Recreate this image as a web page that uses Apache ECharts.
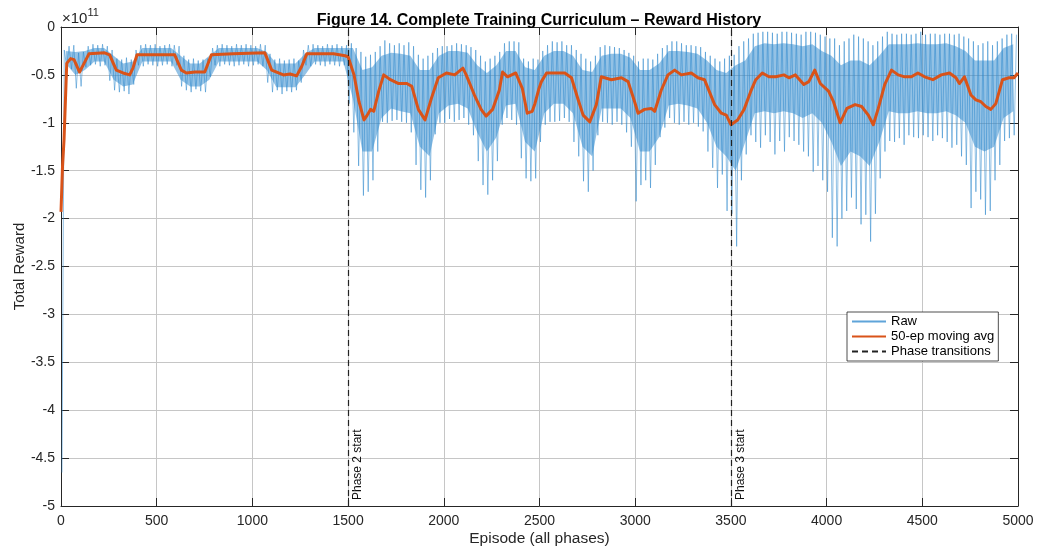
<!DOCTYPE html>
<html>
<head>
<meta charset="utf-8">
<title>Reward History</title>
<script src="https://cdn.jsdelivr.net/npm/echarts@6/dist/echarts.min.js"></script>
<style>
  html, body { margin: 0; padding: 0; background: #fff; }
  #chart { width: 1037px; height: 549px; }
</style>
</head>
<body>
<div id="chart"></div>
<script>
// Rewards are in units of 1e11 (the axis carries a "×10^11" multiplier).
const BIN = 25;    // raw-reward extremes are stored per 25-episode bin
const BLOCK = 50;  // dense core of the raw trace is stored per 50-episode block

// Upper extreme of the raw reward within each 25-episode bin (200 bins, episodes 0-5000)
const rawHigh = [
  // phase 1 (0-1500)
  -0.24,-0.20,-0.19,-0.27,-0.26,-0.20,-0.18,-0.19,-0.18,-0.20,
  -0.24,-0.33,-0.34,-0.32,-0.34,-0.24,-0.19,-0.18,-0.19,-0.18,
  -0.20,-0.19,-0.18,-0.19,-0.20,-0.30,-0.34,-0.33,-0.35,-0.34,
  -0.33,-0.22,-0.19,-0.18,-0.19,-0.20,-0.18,-0.19,-0.18,-0.19,
  -0.20,-0.18,-0.19,-0.28,-0.34,-0.33,-0.35,-0.34,-0.33,-0.35,
  -0.24,-0.19,-0.18,-0.19,-0.20,-0.18,-0.19,-0.18,-0.20,-0.19,
  // phase 2 (1500-3500)
  -0.17,-0.22,-0.26,-0.31,-0.29,-0.26,-0.20,-0.14,-0.17,-0.19,
  -0.17,-0.19,-0.16,-0.20,-0.29,-0.33,-0.30,-0.27,-0.22,-0.20,
  -0.20,-0.19,-0.17,-0.18,-0.19,-0.21,-0.24,-0.30,-0.36,-0.33,
  -0.30,-0.26,-0.17,-0.15,-0.15,-0.16,-0.33,-0.36,-0.33,-0.34,
  -0.25,-0.19,-0.15,-0.16,-0.15,-0.19,-0.19,-0.24,-0.28,-0.33,
  -0.36,-0.30,-0.21,-0.19,-0.20,-0.21,-0.22,-0.24,-0.27,-0.30,
  -0.36,-0.33,-0.33,-0.34,-0.28,-0.22,-0.19,-0.15,-0.15,-0.17,
  -0.19,-0.19,-0.20,-0.21,-0.26,-0.30,-0.33,-0.36,-0.33,-0.30,
  // phase 3 (3500-5000)
  -0.29,-0.20,-0.15,-0.12,-0.07,-0.06,-0.05,-0.05,-0.06,-0.07,
  -0.05,-0.05,-0.06,-0.07,-0.08,-0.05,-0.05,-0.06,-0.08,-0.10,
  -0.12,-0.12,-0.19,-0.15,-0.12,-0.08,-0.10,-0.12,-0.15,-0.19,
  -0.15,-0.10,-0.05,-0.07,-0.08,-0.07,-0.07,-0.08,-0.07,-0.05,
  -0.08,-0.07,-0.07,-0.08,-0.07,-0.07,-0.08,-0.07,-0.10,-0.12,
  -0.15,-0.19,-0.17,-0.15,-0.19,-0.15,-0.12,-0.08,-0.07,-0.08
];

// Lower extreme of the raw reward within each 25-episode bin
const rawLow = [
  // phase 1
  -4.65,-0.42,-0.44,-0.64,-0.62,-0.42,-0.40,-0.39,-0.41,-0.40,
  -0.56,-0.66,-0.68,-0.67,-0.70,-0.60,-0.40,-0.41,-0.39,-0.40,
  -0.41,-0.40,-0.39,-0.41,-0.40,-0.62,-0.66,-0.68,-0.65,-0.67,
  -0.68,-0.52,-0.40,-0.41,-0.39,-0.40,-0.41,-0.40,-0.39,-0.41,
  -0.40,-0.39,-0.41,-0.58,-0.68,-0.66,-0.70,-0.67,-0.68,-0.66,
  -0.58,-0.40,-0.41,-0.39,-0.40,-0.41,-0.39,-0.40,-0.41,-0.40,
  // phase 2
  -0.80,-1.10,-1.45,-1.76,-1.72,-1.60,-1.30,-0.99,-1.00,-0.98,
  -0.97,-0.99,-1.00,-1.10,-1.44,-1.70,-1.78,-1.60,-1.12,-1.00,
  -1.00,-0.96,-0.99,-0.97,-0.95,-1.02,-1.13,-1.40,-1.65,-1.75,
  -1.60,-1.40,-1.02,-0.95,-0.97,-1.02,-1.37,-1.58,-1.61,-1.58,
  -1.20,-1.02,-0.99,-0.99,-0.98,-0.95,-0.99,-1.20,-1.35,-1.61,
  -1.72,-1.50,-1.13,-0.99,-1.00,-1.02,-0.99,-1.02,-1.10,-1.25,
  -1.82,-1.65,-1.60,-1.68,-1.44,-1.15,-1.05,-0.95,-1.00,-1.02,
  -0.99,-1.02,-1.00,-1.04,-1.09,-1.30,-1.47,-1.68,-1.54,-1.92,
  // phase 3
  -1.95,-2.29,-1.60,-1.33,-1.13,-1.20,-1.26,-1.13,-1.20,-1.33,
  -1.19,-1.30,-1.15,-1.19,-1.23,-1.30,-1.35,-1.51,-1.45,-1.60,
  -1.72,-2.20,-2.29,-2.00,-1.92,-1.78,-1.90,-2.06,-1.96,-2.24,
  -1.95,-1.58,-1.30,-1.19,-1.20,-1.16,-1.23,-1.13,-1.15,-1.16,
  -1.13,-1.15,-1.19,-1.13,-1.16,-1.20,-1.26,-1.23,-1.35,-1.44,
  -1.89,-1.72,-1.80,-1.96,-1.92,-1.60,-1.44,-1.19,-1.16,-1.13
];

// Dense core of the raw trace per 50-episode block (100 blocks): top and bottom
const coreHigh = [
  -0.25,-0.26,-0.25,-0.22,-0.22,-0.30,-0.38,-0.36,-0.22,-0.22,
  -0.22,-0.22,-0.30,-0.38,-0.38,-0.30,-0.22,-0.22,-0.22,-0.22,
  -0.22,-0.26,-0.38,-0.38,-0.38,-0.28,-0.22,-0.22,-0.22,-0.22,
  -0.22,-0.45,-0.42,-0.30,-0.27,-0.28,-0.30,-0.45,-0.45,-0.30,
  -0.25,-0.25,-0.27,-0.40,-0.48,-0.40,-0.25,-0.25,-0.42,-0.45,
  -0.30,-0.25,-0.25,-0.30,-0.45,-0.47,-0.30,-0.28,-0.28,-0.32,
  -0.45,-0.45,-0.38,-0.25,-0.25,-0.26,-0.28,-0.35,-0.45,-0.48,
  -0.40,-0.35,-0.20,-0.17,-0.18,-0.17,-0.18,-0.20,-0.18,-0.25,
  -0.30,-0.40,-0.35,-0.35,-0.40,-0.30,-0.18,-0.18,-0.18,-0.17,
  -0.18,-0.18,-0.17,-0.20,-0.25,-0.35,-0.35,-0.35,-0.22,-0.18
];
const coreLow = [
  -0.38,-0.50,-0.45,-0.36,-0.36,-0.55,-0.62,-0.60,-0.36,-0.36,
  -0.36,-0.36,-0.55,-0.62,-0.62,-0.55,-0.36,-0.36,-0.36,-0.36,
  -0.36,-0.45,-0.63,-0.63,-0.63,-0.50,-0.36,-0.36,-0.36,-0.36,
  -0.75,-1.30,-1.30,-0.95,-0.85,-0.88,-0.90,-1.25,-1.35,-0.90,
  -0.82,-0.80,-0.85,-1.10,-1.30,-1.15,-0.82,-0.80,-1.20,-1.30,
  -0.90,-0.80,-0.80,-0.90,-1.25,-1.35,-0.85,-0.85,-0.85,-0.95,
  -1.30,-1.30,-1.15,-0.82,-0.80,-0.82,-0.85,-1.00,-1.25,-1.35,
  -1.50,-1.20,-0.90,-0.88,-0.90,-0.88,-0.90,-0.95,-0.90,-1.00,
  -1.20,-1.45,-1.30,-1.35,-1.45,-1.20,-0.88,-0.90,-0.90,-0.88,
  -0.90,-0.90,-0.88,-0.92,-1.00,-1.25,-1.30,-1.25,-0.95,-0.88
];

// 50-episode moving average, sampled at its turning points
const maEpisodes = [
  0,8,16,30,50,68,97,115,146,228,254,289,324,359,376,397,498,594,629,655,
  700,751,786,899,1065,1101,1162,1197,1231,1258,1284,1424,1484,1500,1531,1557,1583,1600,1617,1634,
  1660,1686,1721,1764,1807,1833,1867,1902,1936,1971,2014,2057,2100,2117,2160,2195,2221,2255,2290,2307,
  2333,2376,2410,2436,2462,2476,2496,2510,2537,2580,2632,2667,2702,2728,2763,2797,2823,2876,2928,2963,
  2997,3015,3049,3084,3102,3136,3171,3206,3241,3293,3328,3362,3415,3450,3476,3500,3535,3569,3604,3630,
  3664,3699,3734,3777,3803,3837,3881,3907,3938,3967,4010,4036,4071,4106,4149,4183,4218,4244,4270,4304,
  4339,4374,4408,4443,4477,4512,4555,4599,4642,4676,4694,4720,4754,4780,4806,4832,4858,4884,4919,4953,
  4979,5000
];
const maValues = [
  -1.93,-1.45,-1.17,-0.38,-0.33,-0.34,-0.47,-0.40,-0.28,-0.27,-0.29,-0.45,-0.48,-0.50,-0.43,-0.29,-0.29,-0.29,-0.45,-0.48,
  -0.47,-0.47,-0.29,-0.28,-0.27,-0.45,-0.50,-0.49,-0.51,-0.41,-0.28,-0.28,-0.30,-0.31,-0.50,-0.78,-0.97,-0.92,-0.86,-0.88,
  -0.67,-0.50,-0.55,-0.59,-0.59,-0.62,-0.86,-0.97,-0.74,-0.53,-0.48,-0.50,-0.43,-0.50,-0.71,-0.86,-0.93,-0.86,-0.66,-0.47,
  -0.52,-0.48,-0.64,-0.90,-0.88,-0.80,-0.65,-0.57,-0.48,-0.48,-0.48,-0.53,-0.76,-0.92,-0.99,-0.81,-0.52,-0.55,-0.53,-0.57,
  -0.78,-0.90,-0.86,-0.85,-0.88,-0.66,-0.50,-0.45,-0.50,-0.48,-0.53,-0.55,-0.81,-0.90,-0.92,-1.02,-0.97,-0.86,-0.67,-0.55,
  -0.48,-0.52,-0.52,-0.50,-0.53,-0.50,-0.60,-0.57,-0.45,-0.59,-0.67,-0.78,-1.00,-0.85,-0.81,-0.83,-0.92,-1.02,-0.85,-0.60,
  -0.45,-0.50,-0.52,-0.52,-0.48,-0.52,-0.55,-0.50,-0.48,-0.53,-0.59,-0.52,-0.71,-0.76,-0.78,-0.83,-0.86,-0.80,-0.55,-0.53,
  -0.53,-0.48
];

// Curriculum phase boundaries
const phaseStarts = [1500, 3500];
const phaseLabels = ['Phase 2 start', 'Phase 3 start'];

const xTicks = { min: 0, max: 5000, interval: 500 };
const yTicks = { min: -5, max: 0, interval: 0.5 };

// Raw trace: low and high extreme of every bin, in episode order
const rawData = [];
rawLow.forEach((lo, i) => {
  rawData.push([i * BIN + 5, lo]);
  rawData.push([i * BIN + 17, rawHigh[i]]);
});
// Core band: one row per block (episode centre, bottom, top)
const coreData = coreLow.map((lo, j) => [j * BLOCK + BLOCK / 2, lo, coreHigh[j]]);
const maData = maEpisodes.map((ep, i) => [ep, maValues[i]]);

const FONT = '"Liberation Sans", Arial, Helvetica, sans-serif';
const AXIS = '#262626';
const GRID = '#c6c6c6';
const RAW = '#2a86cc';

const chart = echarts.init(document.getElementById('chart'), null, { renderer: 'canvas' });

const frameAxis = {
  axisLine: { show: true, onZero: false, lineStyle: { color: AXIS, width: 1 } },
  axisTick: { show: true, inside: true, length: 8, lineStyle: { color: AXIS, width: 1 } },
  splitLine: { show: false },
  axisLabel: { show: false }
};

// The core band is drawn as one polygon through the axis scales:
// along the top edge left to right, then back along the bottom edge.
function renderCore(params, api) {
  if (params.dataIndex !== 0) return null;
  const top = [], bottom = [];
  coreData.forEach(([ep, lo, hi]) => {
    top.push(api.coord([ep, hi]));
    bottom.push(api.coord([ep, lo]));
  });
  return {
    type: 'polygon',
    shape: { points: top.concat(bottom.reverse()) },
    style: { fill: RAW, opacity: 0.5 },
    silent: true
  };
}

chart.setOption({
  animation: false,
  backgroundColor: '#fff',
  textStyle: { fontFamily: FONT },
  title: {
    text: 'Figure 14. Complete Training Curriculum \u2013 Reward History',
    left: 534, textAlign: 'center', top: 8,
    textStyle: { fontFamily: FONT, fontSize: 16, fontWeight: 'bold', color: '#000' }
  },
  grid: { left: 61, right: 19, top: 27, bottom: 43, containLabel: false, outerBoundsMode: 'none' },
  legend: {
    left: 847, top: 312, orient: 'vertical',
    backgroundColor: '#fff', borderColor: '#222', borderWidth: 0.8, borderRadius: 0,
    padding: [3, 4, 3, 4], itemGap: 2, itemWidth: 34, itemHeight: 13,
    itemStyle: { opacity: 0 },
    textStyle: { fontFamily: FONT, fontSize: 13, color: '#000' },
    data: ['Raw', '50-ep moving avg', 'Phase transitions']
  },
  graphic: [{
    type: 'text', left: 62, top: 7,
    style: {
      text: '{a|\u00d710}{b|11}',
      rich: {
        a: { fontFamily: FONT, fontSize: 15, fill: AXIS, verticalAlign: 'bottom', lineHeight: 19 },
        b: { fontFamily: FONT, fontSize: 11, fill: AXIS, verticalAlign: 'top', lineHeight: 12 }
      }
    }
  }],
  xAxis: [{
    type: 'value', position: 'bottom',
    min: xTicks.min, max: xTicks.max, interval: xTicks.interval,
    name: 'Episode (all phases)', nameLocation: 'middle', nameGap: 25, nameMoveOverlap: false,
    nameTextStyle: { fontFamily: FONT, fontSize: 15.5, color: AXIS },
    axisLine: { show: true, onZero: false, lineStyle: { color: AXIS, width: 1 } },
    axisTick: { show: true, inside: true, length: 8, lineStyle: { color: AXIS, width: 1 } },
    axisLabel: { fontFamily: FONT, fontSize: 14, color: AXIS, margin: 8, formatter: v => String(v) },
    splitLine: { show: true, lineStyle: { color: GRID, width: 1 } }
  }, Object.assign({
    type: 'value', position: 'top',
    min: xTicks.min, max: xTicks.max, interval: xTicks.interval
  }, frameAxis)],
  yAxis: [{
    type: 'value', position: 'left',
    min: yTicks.min, max: yTicks.max, interval: yTicks.interval,
    name: 'Total Reward', nameLocation: 'middle', nameGap: 34, nameMoveOverlap: false,
    nameTextStyle: { fontFamily: FONT, fontSize: 15, color: AXIS },
    axisLine: { show: true, onZero: false, lineStyle: { color: AXIS, width: 1 } },
    axisTick: { show: true, inside: true, length: 8, lineStyle: { color: AXIS, width: 1 } },
    axisLabel: { fontFamily: FONT, fontSize: 14, color: AXIS, margin: 6 },
    splitLine: { show: true, lineStyle: { color: GRID, width: 1 } }
  }, Object.assign({
    type: 'value', position: 'right',
    min: yTicks.min, max: yTicks.max, interval: yTicks.interval
  }, frameAxis)],
  series: [{
    name: 'rawCore', type: 'custom', data: coreData,
    renderItem: renderCore, clip: true, z: 1, silent: true,
    encode: { x: 0, y: [1, 2] }
  }, {
    name: 'Raw', type: 'line', data: rawData,
    symbol: 'none', sampling: 'none', z: 2,
    lineStyle: { color: RAW, width: 0.7, opacity: 0.75 },
    itemStyle: { color: '#8cc3ec' }
  }, {
    name: '50-ep moving avg', type: 'line', data: maData,
    symbol: 'none', z: 3,
    lineStyle: { color: '#D95319', width: 3, join: 'round' },
    itemStyle: { color: '#D95319' }
  }, {
    name: 'Phase transitions', type: 'line', data: [],
    symbol: 'none', z: 4,
    lineStyle: { color: '#222', width: 1.2, type: [6, 4] },
    itemStyle: { color: '#222' },
    markLine: {
      silent: true, symbol: 'none', animation: false,
      lineStyle: { color: '#222', width: 1.2, type: [6, 4] },
      label: {
        show: true, position: 'insideStartBottom', distance: [6, 4],
        fontFamily: FONT, fontSize: 12, color: '#111',
        formatter: p => phaseLabels[phaseStarts.indexOf(p.value)]
      },
      data: phaseStarts.map(x => ({ xAxis: x }))
    }
  }]
});
</script>
</body>
</html>
